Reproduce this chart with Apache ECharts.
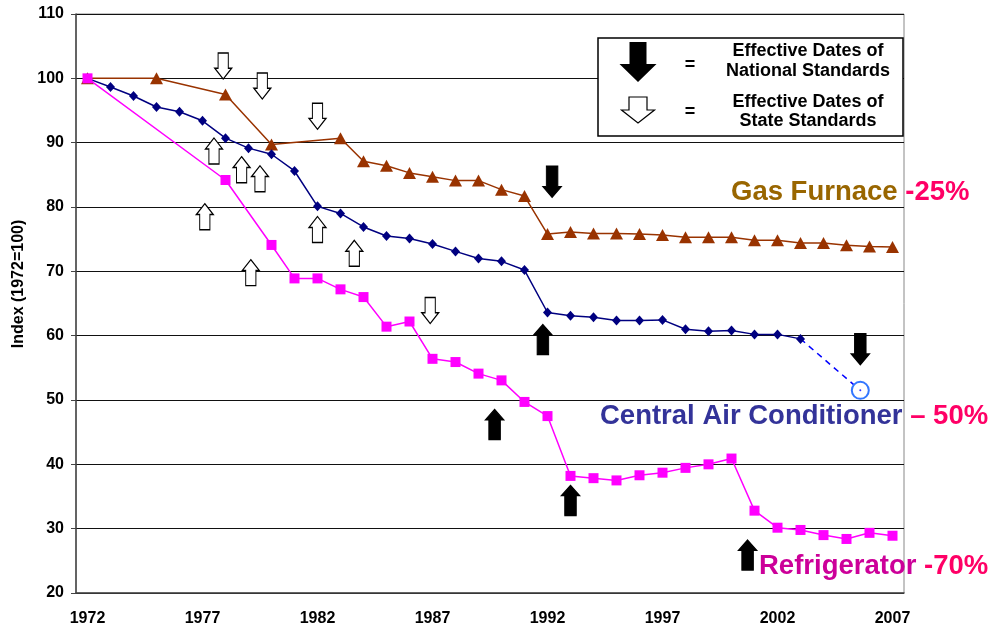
<!DOCTYPE html>
<html>
<head>
<meta charset="utf-8">
<script src="https://cdn.jsdelivr.net/npm/echarts@6/dist/echarts.min.js"></script>
<style>
html,body{margin:0;padding:0;background:#fff;}
#chart{width:998px;height:628px;}
</style>
</head>
<body>
<div id="chart"></div>
<script>
// ---- Data ----
var years = ['1972','1973','1974','1975','1976','1977','1978','1979','1980','1981','1982','1983','1984','1985','1986','1987','1988','1989','1990','1991','1992','1993','1994','1995','1996','1997','1998','1999','2000','2001','2002','2003','2004','2005','2006','2007'];
var gasFurnace = [100,null,null,100,null,null,97.5,null,89.7,null,null,90.7,87.1,86.4,85.3,84.7,84.1,84.1,82.7,81.7,75.8,76.1,75.9,75.9,75.8,75.65,75.3,75.3,75.3,74.85,74.85,74.4,74.4,74.05,73.85,73.8];
var centralAC = [100,98.65,97.25,95.55,94.8,93.4,90.7,89.15,88.2,85.6,80.1,79.0,76.9,75.5,75.1,74.25,73.1,72.0,71.55,70.2,63.6,63.1,62.85,62.35,62.35,62.45,61.0,60.7,60.8,60.2,60.2,59.5,null,null,null,null];
// projection: [year position, index value]
var centralACProjection = [[2003, 59.5], [2005.6, 51.5]];
var refrigerator = [100,null,null,null,null,null,84.2,null,74.1,68.9,68.9,67.2,66.0,61.4,62.2,56.4,55.9,54.1,53.05,49.7,47.5,38.2,37.85,37.5,38.3,38.7,39.45,40.0,40.9,32.8,30.15,29.8,29.0,28.4,29.35,28.9];
// Standards arrows: [year position, index value]
var stateDownArrows = [[1977.9,101.9],[1979.6,98.8],[1982.0,94.1],[1986.9,63.9]];
var stateUpArrows = [[1977.5,88.7],[1978.7,85.8],[1979.5,84.4],[1977.1,78.5],[1982.0,76.5],[1983.6,72.8],[1979.1,69.8]];
var nationalUpArrows = [[1991.8,59.4],[1989.7,46.2],[1993.0,34.4],[2000.7,25.9]];
var nationalDownArrows = [[1992.2,83.9],[2005.6,57.9]];
var yTicks = {min:20, max:110, interval:10};
var yAxisTitle = 'Index (1972=100)';
var legendLines = ['Effective Dates of','National Standards','Effective Dates of','State Standards'];

// ---- Chart ----
var FONT = '"Liberation Sans", Arial, sans-serif';
var whiteUp = 'path://M50,0 L100,42 L80,42 L80,100 L20,100 L20,42 L0,42 Z';
var whiteDown = 'path://M20,0 L80,0 L80,58 L100,58 L50,100 L0,58 L20,58 Z';
var blackUp = 'path://M50,0 L100,34 L82,34 L82,100 L18,100 L18,34 L0,34 Z';
var blackDown = 'path://M18,0 L82,0 L82,66 L100,66 L50,100 L0,66 L18,66 Z';

var projData = centralACProjection.map(function(p, i){
  if (i === centralACProjection.length - 1) return {value: p, symbol: 'emptyCircle', symbolSize: 17};
  return {value: p, symbol: 'none'};
});
var projEnd = [centralACProjection[centralACProjection.length - 1]];

function arrowSeries(data, sym, size, fill) {
  return {
    type: 'scatter', xAxisIndex: 1, yAxisIndex: 0, data: data,
    symbol: sym, symbolSize: size, symbolKeepAspect: false, silent: true, z: 5,
    itemStyle: {color: fill, borderColor: '#000', borderWidth: 1.2, opacity: 1}
  };
}

var ANN = 'bold 27.5px ' + FONT;
var chart = echarts.init(document.getElementById('chart'), null, {renderer: 'canvas'});
chart.setOption({
  animation: false,
  backgroundColor: '#fff',
  grid: {left: 76, right: 94, top: 14, bottom: 35, show: true, borderColor: '#888', borderWidth: 1},
  xAxis: [{
    type: 'category', data: years, boundaryGap: true,
    axisLine: {lineStyle: {color: '#444', width: 1.5}},
    axisTick: {interval: 0, length: 6, lineStyle: {color: '#444'}},
    axisLabel: {interval: 4, margin: 18, color: '#000', fontFamily: FONT, fontWeight: 'bold', fontSize: 16},
    splitLine: {show: false}
  }, {
    type: 'value', min: 1971.5, max: 2007.5, show: false, splitLine: {show: false}
  }],
  yAxis: {
    type: 'value', min: yTicks.min, max: yTicks.max, interval: yTicks.interval,
    axisLine: {show: true, lineStyle: {color: '#444', width: 1.5}},
    axisTick: {show: true, length: 5, lineStyle: {color: '#444'}},
    axisLabel: {margin: 12, color: '#000', fontFamily: FONT, fontWeight: 'bold', fontSize: 16},
    splitLine: {lineStyle: {color: '#111', width: 1}}
  },
  series: [
    {name: 'Gas Furnace', type: 'line', data: gasFurnace, connectNulls: true,
     symbol: 'triangle', symbolSize: [13, 12], showAllSymbol: true,
     lineStyle: {color: '#993300', width: 1.5}, itemStyle: {color: '#993300'}, z: 2},
    {name: 'Central AC', type: 'line', data: centralAC, connectNulls: true,
     symbol: 'diamond', symbolSize: [9, 10], showAllSymbol: true,
     lineStyle: {color: '#000080', width: 1.5}, itemStyle: {color: '#000080'}, z: 3},
    {name: 'Central AC projection', type: 'line', xAxisIndex: 1, data: projData,
     showAllSymbol: true,
     lineStyle: {color: '#0000FF', width: 1.5, type: [6, 5]},
     itemStyle: {color: '#3377FF', borderWidth: 1.5}, z: 3},
    {name: 'Projection dot', type: 'scatter', xAxisIndex: 1, data: projEnd,
     symbol: 'circle', symbolSize: 2, itemStyle: {color: '#0000FF'}, silent: true, z: 4},
    {name: 'Refrigerator', type: 'line', data: refrigerator, connectNulls: true,
     symbol: 'rect', symbolSize: 10, showAllSymbol: true,
     lineStyle: {color: '#FF00FF', width: 1.5}, itemStyle: {color: '#FF00FF'}, z: 4},
    arrowSeries(stateDownArrows, whiteDown, [17, 26], '#fff'),
    arrowSeries(stateUpArrows, whiteUp, [17, 26], '#fff'),
    arrowSeries(nationalUpArrows, blackUp, [18, 30], '#000'),
    arrowSeries(nationalDownArrows, blackDown, [18, 31], '#000')
  ],
  graphic: [
    {type: 'text', x: 19, y: 284, rotation: Math.PI / 2,
     style: {text: yAxisTitle, fill: '#000', font: 'bold 16px ' + FONT, align: 'center', verticalAlign: 'middle'}},
    // legend box
    {type: 'rect', shape: {x: 598, y: 38, width: 305, height: 98},
     style: {fill: '#fff', stroke: '#000', lineWidth: 1.5}, z: 10},
    {type: 'polygon', z: 11, shape: {points: [[629.5,42],[646.5,42],[646.5,64],[656.5,64],[638,82],[619.5,64],[629.5,64]]},
     style: {fill: '#000'}},
    {type: 'polygon', z: 11, shape: {points: [[629,97],[647,97],[647,110],[654.5,110],[638,123],[621.5,110],[629,110]]},
     style: {fill: '#fff', stroke: '#000', lineWidth: 1.2}},
    {type: 'text', z: 11, x: 690, y: 65, style: {text: '=', fill: '#000', font: 'bold 18px ' + FONT, align: 'center', verticalAlign: 'middle'}},
    {type: 'text', z: 11, x: 690, y: 112, style: {text: '=', fill: '#000', font: 'bold 18px ' + FONT, align: 'center', verticalAlign: 'middle'}},
    {type: 'text', z: 11, x: 808, y: 51, style: {text: legendLines[0], fill: '#000', font: 'bold 18px ' + FONT, align: 'center', verticalAlign: 'middle'}},
    {type: 'text', z: 11, x: 808, y: 71, style: {text: legendLines[1], fill: '#000', font: 'bold 18px ' + FONT, align: 'center', verticalAlign: 'middle'}},
    {type: 'text', z: 11, x: 808, y: 102, style: {text: legendLines[2], fill: '#000', font: 'bold 18px ' + FONT, align: 'center', verticalAlign: 'middle'}},
    {type: 'text', z: 11, x: 808, y: 121, style: {text: legendLines[3], fill: '#000', font: 'bold 18px ' + FONT, align: 'center', verticalAlign: 'middle'}},
    // series annotations
    {type: 'text', z: 12, x: 731, y: 192,
     style: {text: '{a|Gas Furnace }{b|-25%}', verticalAlign: 'middle',
       rich: {a: {fill: '#996600', font: ANN}, b: {fill: '#FF0066', font: ANN}}}},
    {type: 'text', z: 12, x: 600, y: 416,
     style: {text: '{a|Central Air Conditioner }{b|\u2013 50%}', verticalAlign: 'middle',
       rich: {a: {fill: '#333399', font: ANN}, b: {fill: '#FF0066', font: ANN}}}},
    {type: 'text', z: 12, x: 759, y: 566,
     style: {text: '{a|Refrigerator }{b|-70%}', verticalAlign: 'middle',
       rich: {a: {fill: '#CC0099', font: ANN}, b: {fill: '#FF0066', font: ANN}}}}
  ]
});
</script>
</body>
</html>
